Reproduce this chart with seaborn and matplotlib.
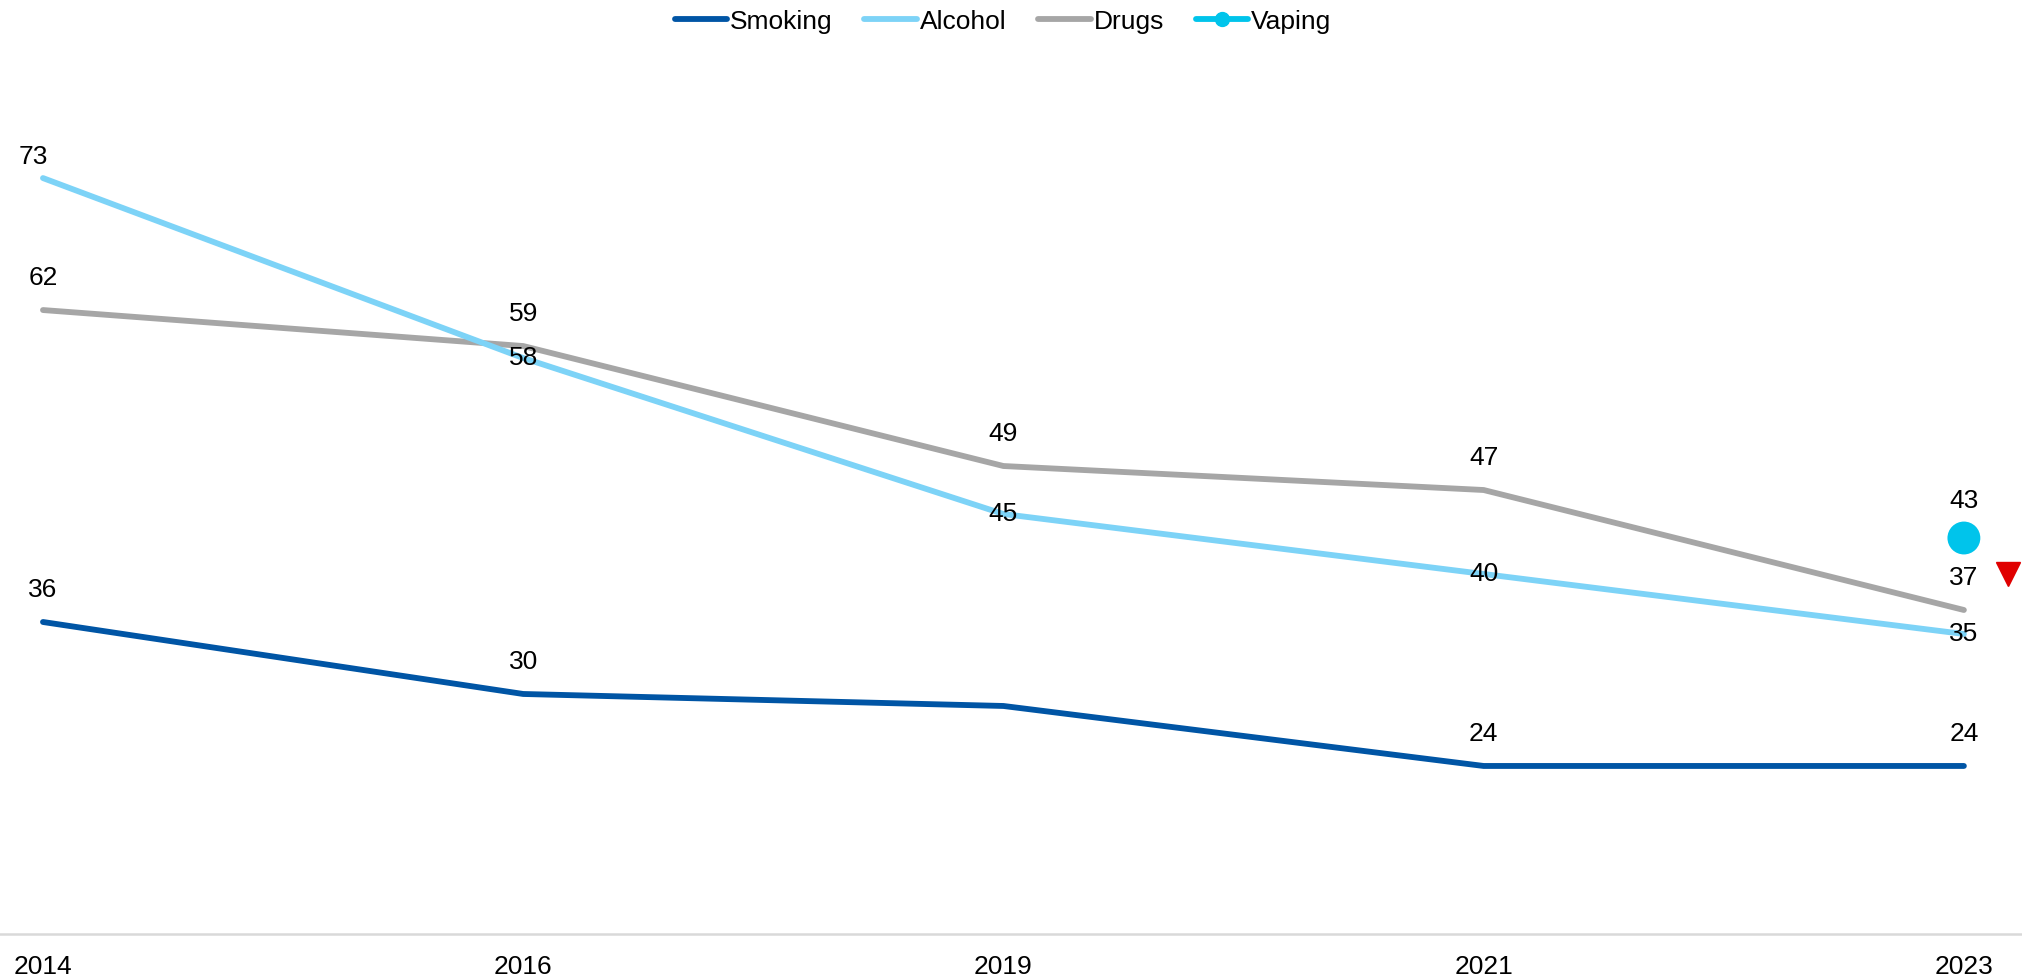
import matplotlib
matplotlib.use("Agg")
import matplotlib.pyplot as plt
import matplotlib.transforms as mtransforms
from matplotlib.lines import Line2D
import seaborn as sns
import pandas as pd

years = ["2014", "2016", "2019", "2021", "2023"]
smoking = [36, 30, 29, 24, 24]
alcohol = [73, 58, 45, 40, 35]
drugs = [62, 59, 49, 47, 37]
vaping_year = "2023"
vaping = 43
decrease_marker_value = 40

# which points carry a value label, and where it sits relative to the point
smoking_labels = [True, True, False, True, True]
alcohol_label_pos = ["above", "center", "center", "center", "center"]

colors = {
    "Smoking": "#0055A5",
    "Alcohol": "#7DD3F7",
    "Drugs": "#A6A6A6",
    "Vaping": "#00C4EB",
}

sns.set_theme(style="white")
plt.rcParams["font.family"] = ["Liberation Sans", "DejaVu Sans"]
plt.rcParams["text.color"] = "black"
plt.rcParams["xtick.color"] = "black"

pos = list(range(len(years)))
df = pd.DataFrame({
    "pos": pos * 3,
    "value": smoking + alcohol + drugs,
    "series": ["Smoking"] * 5 + ["Alcohol"] * 5 + ["Drugs"] * 5,
})

fig = plt.figure(figsize=(20.22, 9.8), dpi=100)
ax = fig.add_axes([0.0, 0.047, 1.0, 0.857])

# draw order: drugs, alcohol on top, smoking
for name in ["Drugs", "Alcohol", "Smoking"]:
    sub = df[df["series"] == name]
    sns.lineplot(data=sub, x="pos", y="value", color=colors[name], lw=4.2,
                 ax=ax, legend=False, solid_capstyle="round",
                 solid_joinstyle="round")

vpos = years.index(vaping_year)
sns.scatterplot(x=[vpos], y=[vaping], color=colors["Vaping"], s=560,
                edgecolor="none", ax=ax, legend=False, zorder=5)

# decrease indicator beside the last column
tri_tr = ax.transData + mtransforms.ScaledTranslation(44 / 100, 0, fig.dpi_scale_trans)
ax.plot([len(years) - 1], [decrease_marker_value], marker="v", color="#E00000",
        markersize=17, linestyle="none", transform=tri_tr, clip_on=False)

ax.set_xlim(-0.0895, 4.121)
ax.set_ylim(10, 80)

fs = 19
def label(x, y, dy_pt, text, dx_pt=0):
    ax.annotate(text, (x, y), xytext=(dx_pt, dy_pt), textcoords="offset points",
                ha="center", va="center", fontsize=fs, color="black",
                annotation_clip=False)

for i, v in enumerate(smoking):
    if smoking_labels[i]:
        label(i, v, 23, str(v))
for i, v in enumerate(drugs):
    label(i, v, 23, str(v))
for i, v in enumerate(alcohol):
    if alcohol_label_pos[i] == "above":
        label(i, v, 15, str(v), dx_pt=-7)
    else:
        label(i, v, 0, str(v))
label(vpos, vaping, 27, str(vaping))

ax.set_xticks(pos)
ax.set_xticklabels(years, fontsize=fs, color="black")
ax.tick_params(axis="x", length=0, pad=15)
ax.set_yticks([])
ax.set_xlabel("")
ax.set_ylabel("")
for s in ["top", "left", "right"]:
    ax.spines[s].set_visible(False)
ax.spines["bottom"].set_color("#D9D9D9")
ax.spines["bottom"].set_linewidth(1.8)

handles = [
    Line2D([], [], color=colors["Smoking"], lw=4.2, solid_capstyle="round"),
    Line2D([], [], color=colors["Alcohol"], lw=4.2, solid_capstyle="round"),
    Line2D([], [], color=colors["Drugs"], lw=4.2, solid_capstyle="round"),
    Line2D([], [], color=colors["Vaping"], lw=4.2, marker="o", markersize=10,
           solid_capstyle="round"),
]
leg = fig.legend(handles, ["Smoking", "Alcohol", "Drugs", "Vaping"], loc="center",
                 bbox_to_anchor=(0.496, 0.978), ncol=4, frameon=False, fontsize=fs,
                 handlelength=2.0, handletextpad=0.1, columnspacing=1.2)
for t in leg.get_texts():
    t.set_color("black")

fig.savefig("out.png", dpi=100, facecolor="white")
